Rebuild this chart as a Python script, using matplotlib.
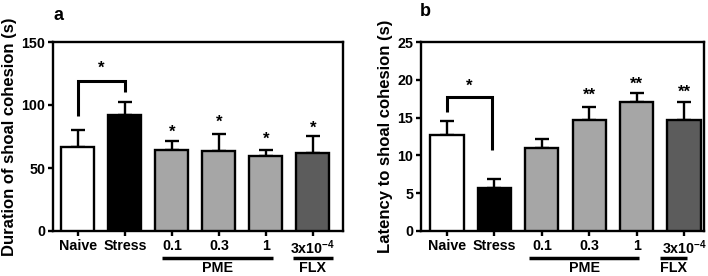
import matplotlib
matplotlib.use("Agg")
import matplotlib.pyplot as plt
import matplotlib.transforms as mtransforms

plt.rcParams['font.family'] = ['Liberation Sans', 'DejaVu Sans']
plt.rcParams['font.weight'] = 'bold'
plt.rcParams['mathtext.fontset'] = 'custom'
plt.rcParams['mathtext.rm'] = 'Liberation Sans:bold'
plt.rcParams['mathtext.bf'] = 'Liberation Sans:bold'
plt.rcParams['mathtext.default'] = 'bf'

# ---- data ----
categories = ['Naive', 'Stress', '0.1', '0.3', '1', '3x10$^{-4}$']
colors = ['#ffffff', '#000000', '#a6a6a6', '#a6a6a6', '#a6a6a6', '#5c5c5c']

dur_mean = [66.5, 91.8, 64.3, 63.5, 59.5, 61.7]
dur_sem = [13.7, 10.3, 7.1, 13.7, 4.5, 13.7]
dur_stars = ['', '', '*', '*', '*', '*']
dur_star_y = [None, None, 78, 86, 72.8, 81.5]
dur_bracket = (0, 1, 91.3, 119, 110.5, '*', 129)   # x1, x2, left-bottom, top, right-bottom, label, label y

lat_mean = [12.7, 5.7, 11.0, 14.7, 17.0, 14.7]
lat_sem = [1.8, 1.2, 1.15, 1.7, 1.2, 2.3]
lat_stars = ['', '', '', '**', '**', '**']
lat_star_y = [None, None, None, 18.0, 19.4, 18.3]
lat_bracket = (0, 0.95, 15.7, 17.7, 10.7, '*', 19.2)

W, H = 708, 276
fig = plt.figure(figsize=(W / 100, H / 100), dpi=100)

LW = 1.7


def panel(rect, means, sems, stars, star_y, bracket, ylim, yticks, ylabel, letter,
          xlim, pme_span, flx_span, letter_xy):
    ax = fig.add_axes(rect)
    x = list(range(len(means)))
    ax.bar(x, means, width=0.7, color=colors, edgecolor='black', linewidth=LW, zorder=3)
    ax.errorbar(x, means, yerr=[[0] * len(sems), sems], fmt='none', ecolor='black',
                elinewidth=LW, capsize=5.2, capthick=LW, zorder=2)
    for xi, s, sy in zip(x, stars, star_y):
        if s:
            ax.text(xi, sy, s, ha='center', va='center', fontsize=12, fontweight='bold')
    x1, x2, yl, yt, yr, lab, ly = bracket
    ax.plot([x1, x1, x2, x2], [yl, yt, yt, yr], color='black', lw=LW + 0.5,
            solid_capstyle='butt', solid_joinstyle='miter')
    ax.text((x1 + x2) / 2, ly, lab, ha='center', va='center', fontsize=12, fontweight='bold')
    ax.set_xlim(*xlim)
    ax.set_ylim(*ylim)
    ax.set_yticks(yticks)
    ax.set_yticklabels([str(t) for t in yticks])
    ax.set_xticks(x)
    ax.set_xticklabels(categories)
    ax.tick_params(axis='both', width=LW, length=3.5, labelsize=10.3, pad=2)
    for lbl in ax.get_xticklabels() + ax.get_yticklabels():
        lbl.set_fontweight('bold')
    for sp in ax.spines.values():
        sp.set_linewidth(LW)
    ax.set_ylabel(ylabel, fontsize=12, fontweight='bold', labelpad=3)
    trans = mtransforms.blended_transform_factory(ax.transData, ax.transAxes)
    yline = -0.145
    ax.plot(list(pme_span), [yline, yline], transform=trans, color='black', lw=2.5,
            clip_on=False, solid_capstyle='butt')
    ax.plot(list(flx_span), [yline, yline], transform=trans, color='black', lw=2.5,
            clip_on=False, solid_capstyle='butt')
    ax.text(sum(pme_span) / 2, -0.197, 'PME', transform=trans, ha='center', va='center',
            fontsize=10.3, fontweight='bold')
    ax.text(sum(flx_span) / 2, -0.197, 'FLX', transform=trans, ha='center', va='center',
            fontsize=10.3, fontweight='bold')
    fig.text(letter_xy[0] / W, 1 - letter_xy[1] / H, letter, fontsize=13,
             fontweight='bold', ha='left', va='center')
    return ax


panel([53 / W, 45 / H, 290 / W, 189 / H], dur_mean, dur_sem, dur_stars, dur_star_y,
      dur_bracket, (0, 150), [0, 50, 100, 150], 'Duration of shoal cohesion (s)', 'a',
      (-0.53, 5.64), (1.79, 4.15), (4.57, 5.43), (53, 16))
panel([421 / W, 45 / H, 283 / W, 189 / H], lat_mean, lat_sem, lat_stars, lat_star_y,
      lat_bracket, (0, 25), [0, 5, 10, 15, 20, 25], 'Latency to shoal cohesion (s)', 'b',
      (-0.55, 5.42), (1.73, 4.05), (4.49, 5.06), (420, 12))

fig.savefig('out.png', dpi=100)
